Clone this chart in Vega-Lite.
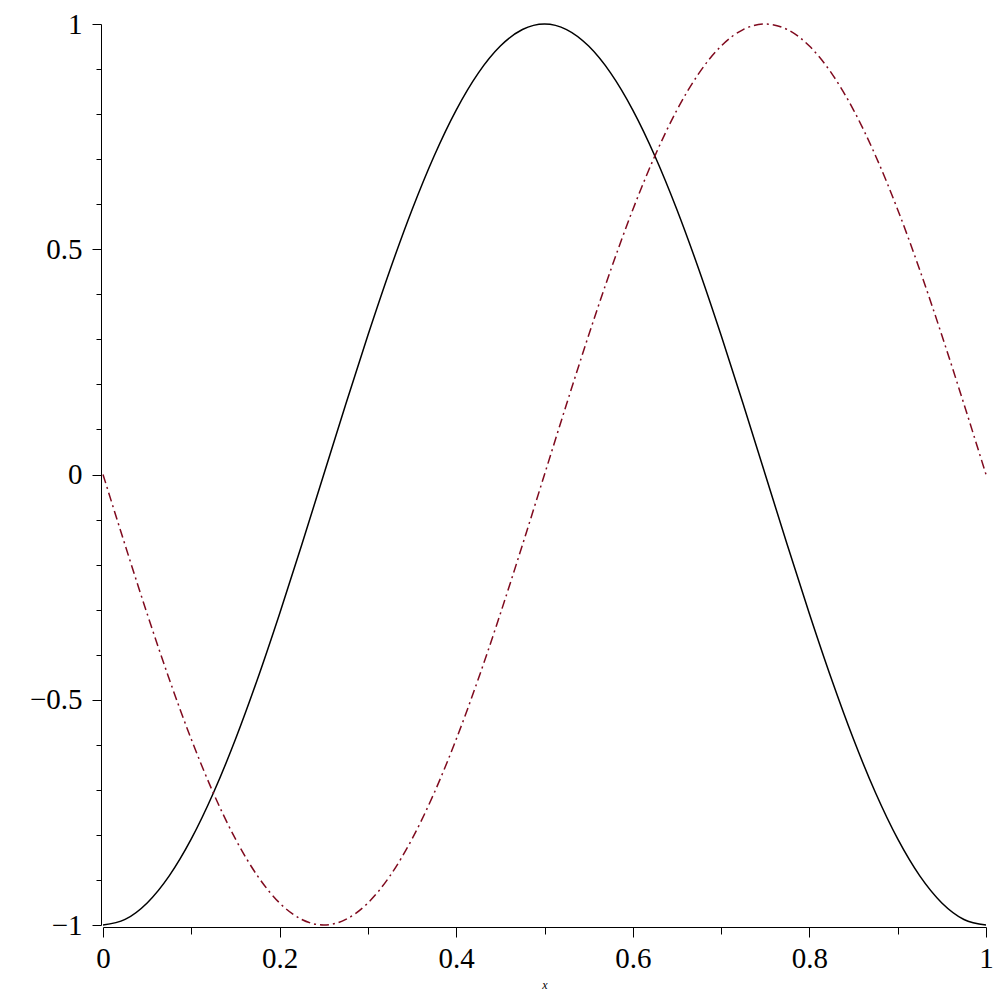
{
  "$schema": "https://vega.github.io/schema/vega-lite/v6.json",
  "width": 883,
  "height": 901,
  "autosize": {"type": "none"},
  "padding": {"left": 103, "top": 24, "right": 14, "bottom": 75},
  "background": "white",
  "config": {"view": {"stroke": null}, "font": "Liberation Serif, Times New Roman, serif"},
  "data": {"values": [
    {"x": 0, "f": -1, "g": 0},
    {"x": 0.025, "f": -0.98769, "g": -0.15643},
    {"x": 0.05, "f": -0.95106, "g": -0.30902},
    {"x": 0.075, "f": -0.89101, "g": -0.45399},
    {"x": 0.1, "f": -0.80902, "g": -0.58779},
    {"x": 0.125, "f": -0.70711, "g": -0.70711},
    {"x": 0.15, "f": -0.58779, "g": -0.80902},
    {"x": 0.175, "f": -0.45399, "g": -0.89101},
    {"x": 0.2, "f": -0.30902, "g": -0.95106},
    {"x": 0.225, "f": -0.15643, "g": -0.98769},
    {"x": 0.25, "f": 0, "g": -1},
    {"x": 0.275, "f": 0.15643, "g": -0.98769},
    {"x": 0.3, "f": 0.30902, "g": -0.95106},
    {"x": 0.325, "f": 0.45399, "g": -0.89101},
    {"x": 0.35, "f": 0.58779, "g": -0.80902},
    {"x": 0.375, "f": 0.70711, "g": -0.70711},
    {"x": 0.4, "f": 0.80902, "g": -0.58779},
    {"x": 0.425, "f": 0.89101, "g": -0.45399},
    {"x": 0.45, "f": 0.95106, "g": -0.30902},
    {"x": 0.475, "f": 0.98769, "g": -0.15643},
    {"x": 0.5, "f": 1, "g": 0},
    {"x": 0.525, "f": 0.98769, "g": 0.15643},
    {"x": 0.55, "f": 0.95106, "g": 0.30902},
    {"x": 0.575, "f": 0.89101, "g": 0.45399},
    {"x": 0.6, "f": 0.80902, "g": 0.58779},
    {"x": 0.625, "f": 0.70711, "g": 0.70711},
    {"x": 0.65, "f": 0.58779, "g": 0.80902},
    {"x": 0.675, "f": 0.45399, "g": 0.89101},
    {"x": 0.7, "f": 0.30902, "g": 0.95106},
    {"x": 0.725, "f": 0.15643, "g": 0.98769},
    {"x": 0.75, "f": 0, "g": 1},
    {"x": 0.775, "f": -0.15643, "g": 0.98769},
    {"x": 0.8, "f": -0.30902, "g": 0.95106},
    {"x": 0.825, "f": -0.45399, "g": 0.89101},
    {"x": 0.85, "f": -0.58779, "g": 0.80902},
    {"x": 0.875, "f": -0.70711, "g": 0.70711},
    {"x": 0.9, "f": -0.80902, "g": 0.58779},
    {"x": 0.925, "f": -0.89101, "g": 0.45399},
    {"x": 0.95, "f": -0.95106, "g": 0.30902},
    {"x": 0.975, "f": -0.98769, "g": 0.15643},
    {"x": 1, "f": -1, "g": 0}
  ]},
  "encoding": {
    "x": {
      "field": "x", "type": "quantitative",
      "scale": {"domain": [0, 1], "nice": false, "zero": false},
      "axis": {
        "values": [0, 0.1, 0.2, 0.3, 0.4, 0.5, 0.6, 0.7, 0.8, 0.9, 1],
        "title": "x",
        "titleFont": "Liberation Serif, Times New Roman, serif",
        "titleFontStyle": "italic",
        "titleFontWeight": "normal",
        "titleFontSize": 12,
        "titleColor": "black",
        "titlePadding": 6,
        "labelExpr": "abs(datum.value*5 - round(datum.value*5)) < 1e-6 ? format(datum.value, '') : ''",
        "labelFont": "Liberation Serif, Times New Roman, serif",
        "labelFontSize": 29,
        "labelColor": "black",
        "labelPadding": 7,
        "labelFlush": false,
        "labelOverlap": false,
        "labelBound": false,
        "tickSize": {"condition": {"test": "abs(datum.value*5 - round(datum.value*5)) < 1e-6", "value": 10}, "value": 7},
        "tickColor": "black",
        "domainColor": "black",
        "grid": false,
        "offset": 2
      }
    }
  },
  "layer": [
    {
      "mark": {"type": "line", "color": "black", "strokeWidth": 1.5, "interpolate": "monotone"},
      "encoding": {
        "y": {
          "field": "f", "type": "quantitative",
          "scale": {"domain": [-1, 1], "nice": false, "zero": false},
          "axis": {
            "values": [-1, -0.9, -0.8, -0.7, -0.6, -0.5, -0.4, -0.3, -0.2, -0.1, 0, 0.1, 0.2, 0.3, 0.4, 0.5, 0.6, 0.7, 0.8, 0.9, 1],
            "title": null,
            "labelExpr": "abs(datum.value*2 - round(datum.value*2)) < 1e-6 ? (datum.value < 0 ? '−' : '') + format(abs(datum.value), '') : ''",
            "labelFont": "Liberation Serif, Times New Roman, serif",
            "labelFontSize": 29,
            "labelColor": "black",
            "labelPadding": 10,
            "labelFlush": false,
            "labelOverlap": false,
            "labelBound": false,
            "tickSize": {"condition": {"test": "abs(datum.value*2 - round(datum.value*2)) < 1e-6", "value": 9}, "value": 5},
            "tickColor": "black",
            "domainColor": "black",
            "grid": false,
            "offset": 2
          }
        }
      }
    },
    {
      "mark": {"type": "line", "color": "#7f0a1e", "strokeWidth": 1.5, "strokeDash": [9, 4, 2, 4], "interpolate": "monotone"},
      "encoding": {
        "y": {"field": "g", "type": "quantitative"}
      }
    }
  ]
}
